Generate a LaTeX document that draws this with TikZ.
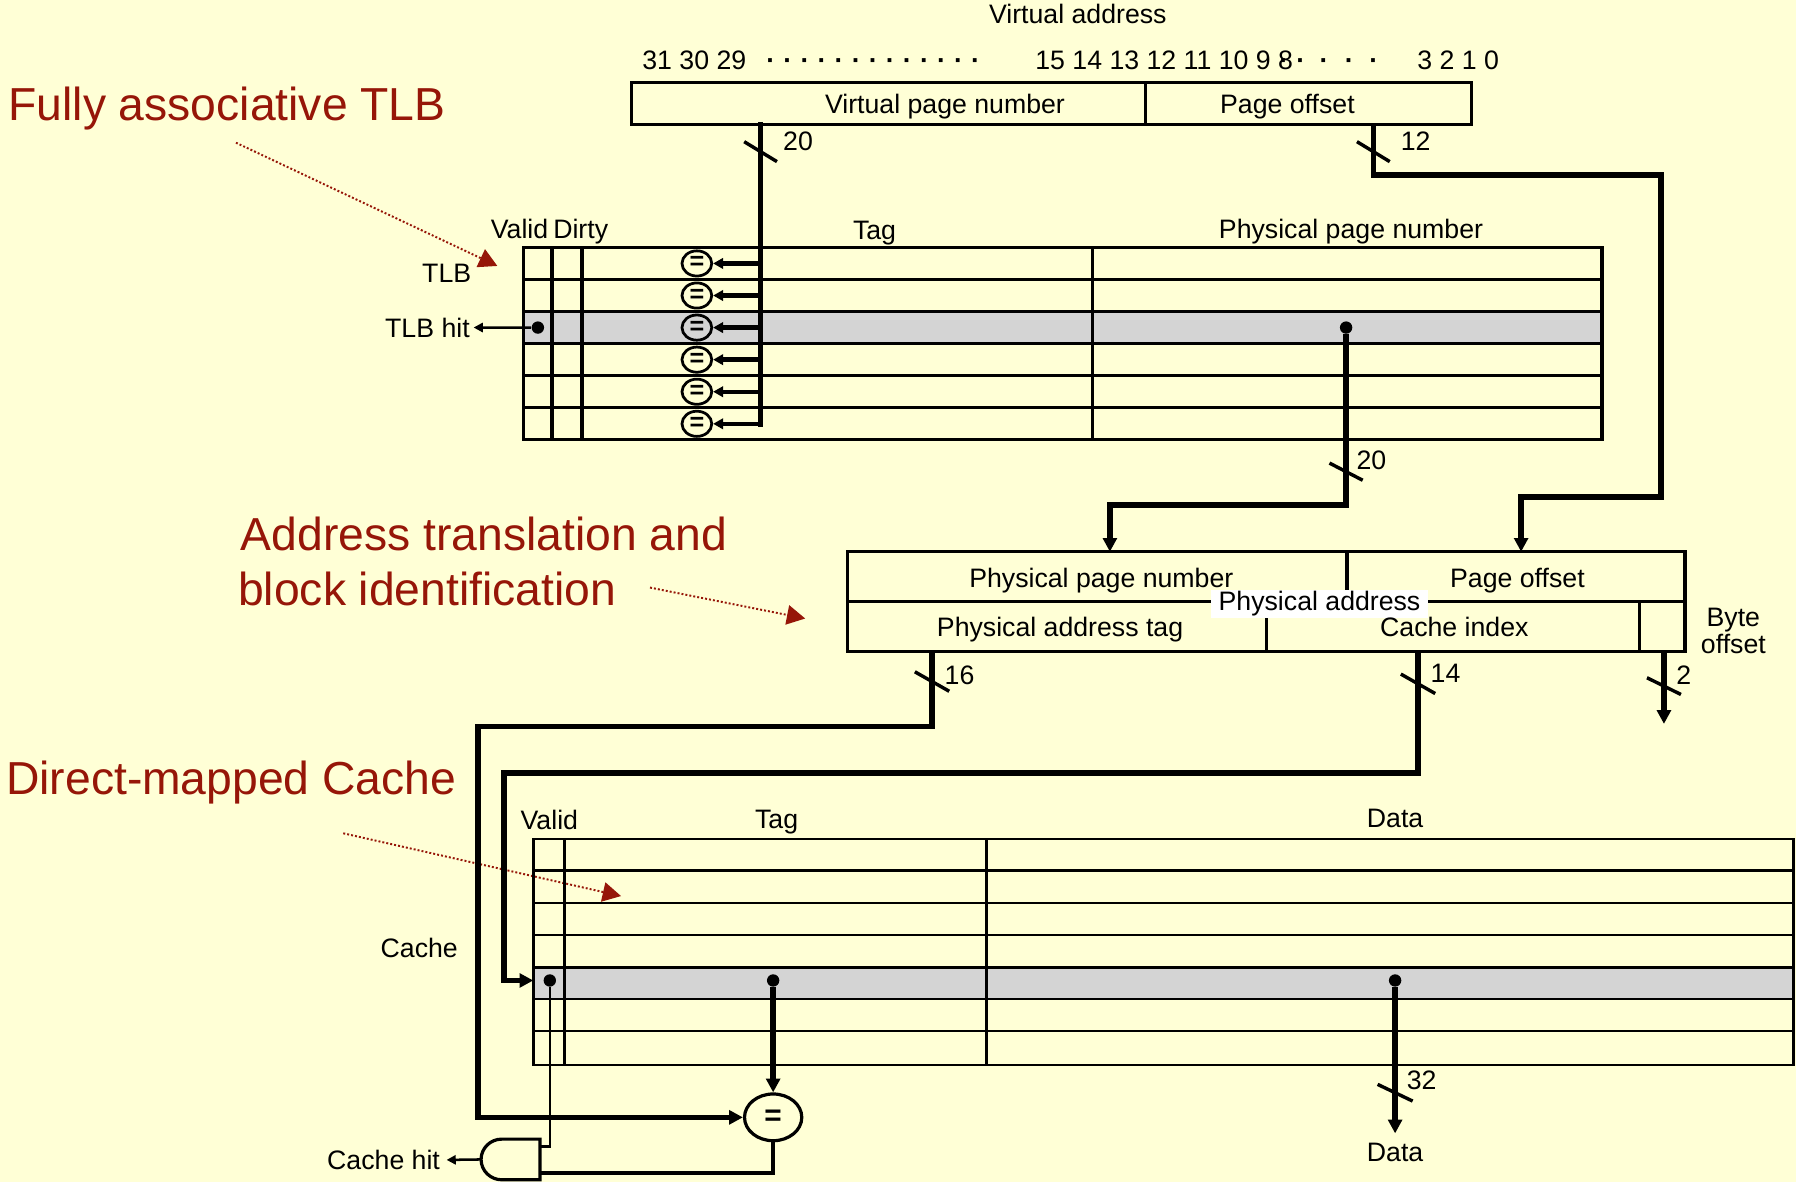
\documentclass[tikz,border=0pt]{standalone}
\usepackage{fontspec}
\setmainfont{Liberation Sans}
\usetikzlibrary{arrows.meta,shapes.geometric}
\definecolor{bg}{RGB}{255,255,214}
\definecolor{anno}{RGB}{150,22,8}
\definecolor{hl}{RGB}{212,212,212}
\begin{document}
\begin{tikzpicture}[x=0.5pt,y=-0.5pt,
  lbl/.style={font=\fontsize{11.65}{14}\selectfont, inner sep=0pt},
  big/.style={font=\fontsize{20.2}{24}\selectfont, text=anno, inner sep=0pt, anchor=base west},
  bus/.style={line width=2.4pt},
  tbl/.style={line width=1.4pt, line cap=rect},
  ctbl/.style={line width=1.2pt, line cap=rect},
  tip/.style={-{Triangle[length=6pt,width=6pt]}},
  smalltip/.style={-{Triangle[length=4pt,width=4pt]}},
  note/.style={draw=anno, line width=0.85pt, dash pattern=on 0.85pt off 0.9pt, -{Triangle[length=8pt,width=8.5pt,fill=anno]}},
  cmp/.style={ellipse, draw, line width=1.2pt, minimum width=13pt, minimum height=11pt, inner sep=0pt, font=\fontsize{11}{11}\selectfont\bfseries},
  dotn/.style={circle, fill, inner sep=0pt, minimum size=5.4pt},
  tickm/.style={line width=1.5pt},
  wire/.style={line width=1.9pt}
]
\fill[bg] (0,0) rectangle (1568,1032);
\useasboundingbox (0,0) rectangle (1568,1032);

% ---------- red annotations ----------
\node[big] (tlbnote) at (7,104.8) {Fully associative TLB};
\node[big] (atnote1) at (210,480.4) {Address translation and};
\node[big] (atnote2) at (207.5,528.4) {block identification};
\node[big] (dmnote) at (5,694) {Direct-mapped Cache};
\coordinate (n1s) at (206,124.6);  \coordinate (n1e) at (434.2,232.2);
\coordinate (n2s) at (567.5,513);  \coordinate (n2e) at (703,540);
\coordinate (n3s) at (299.7,727.5); \coordinate (n3e) at (542.2,782.3);
\draw[note] (n1s) -- (n1e);
\draw[note] (n2s) -- (n2e);
\draw[note] (n3s) -- (n3e);

% ---------- virtual address ----------
\node[lbl, anchor=base] (va) at (941,20.3) {Virtual address};
\node[lbl, anchor=base west] (b31) at (560.4,60.7) {31 30 29};
\foreach \i in {0,...,12} \node[lbl, anchor=base] (ld\i) at ({673+14.9*\i},60.7) {\textbf{·}};
\node[lbl, anchor=base west] (b15) at (903.5,60.7) {15 14 13 12 11 10 9 8\kern-6pt\textbf{·}\kern3.6pt\textbf{·}\kern6.2pt\textbf{·}\kern7.2pt\textbf{·}\kern6.8pt\textbf{·}};
\node[lbl, anchor=base west] (b3) at (1237,60.7) {3 2 1 0};

\draw[tbl] (551.3,72.2) rectangle (1284.5,108.5);
\draw[tbl] (999.9,72.2) -- (999.9,108.5);
\node[lbl, anchor=base] (vpn) at (825,99) {Virtual page number};
\node[lbl, anchor=base] (vpo) at (1124,99) {Page offset};
\coordinate (vpnout) at (664,108.5);
\coordinate (vpoout) at (1199,108.5);
\node[lbl, anchor=base] (w20a) at (696.7,131.7) {20};
\node[lbl, anchor=base] (w12) at (1236,131.7) {12};

% ---------- TLB ----------
\fill[hl] (456.7,272) rectangle (1398.6,300);
\foreach \y in {216,244,...,384} \draw[tbl] (456.7,\y) -- (1398.6,\y);
\foreach \x in {456.7,482,508.1,953.7,1398.6} \draw[tbl] (\x,216) -- (\x,384);
\node[lbl, anchor=base] (tv) at (453.6,208.5) {Valid};
\node[lbl, anchor=base] (td) at (507,208.5) {Dirty};
\node[lbl, anchor=base] (tt) at (763.5,209.5) {Tag};
\node[lbl, anchor=base] (tp) at (1179.5,208.5) {Physical page number};
\node[lbl, anchor=base] (tlbl) at (390,246.5) {TLB};

\foreach \i in {0,...,5} {
  \node[cmp] (c\i) at (608.4,{230+28*\i}) {=};
  \coordinate (tap\i) at (664,{230+28*\i});
}
\draw[bus, line cap=rect] (vpnout) -- (tap5);
\foreach \i in {0,...,5} \draw[wire, -{Triangle[length=4.4pt,width=4.6pt]}] (tap\i) -- (c\i.east);
\draw[tickm] (664,132.4) ++(-14.3,-8.7) -- ++(28.6,17.4);

\node[dotn] (hitdot) at (469.6,286) {};
\node[lbl, anchor=base east] (tlbhit) at (410.5,294.3) {TLB hit};
\draw[line width=1.1pt, smalltip] (hitdot) -- ([xshift=1.5pt]tlbhit.east);

\node[dotn] (ppndot) at (1175.2,286) {};
\coordinate (papnin) at (969,481.7);
\coordinate (papoin) at (1328,481.7);
\draw[bus, tip] (ppndot) -- (1175.2,441) -- (969,441) -- (papnin);
\draw[tickm] (1175.2,411.8) ++(-14.5,-7.5) -- ++(29,15);
\node[lbl, anchor=base] (w20b) at (1197.3,409.6) {20};

\draw[bus, tip] (vpoout) -- (1199,153) -- (1450,153) -- (1450,434) -- (1328,434) -- (papoin);
\draw[tickm] (1199,132.4) ++(-14.3,-8.7) -- ++(28.6,17.4);

% ---------- physical address ----------
\draw[tbl] (740,481.7) rectangle (1471,569);
\draw[tbl] (740,525.3) -- (1471,525.3);
\draw[tbl] (1176,481.7) -- (1176,525.3);
\draw[tbl] (1105.8,525.3) -- (1105.8,569);
\draw[tbl] (1431.6,525.3) -- (1431.6,569);
\node[lbl, anchor=base] (ppn) at (961.5,512.8) {Physical page number};
\node[lbl, anchor=base] (ppo) at (1324.8,512.8) {Page offset};
\node[lbl, anchor=base, fill=white, inner xsep=3.5pt, inner ysep=0.6pt] (pal) at (1152,533.3) {Physical address};
\node[lbl, anchor=base] (pat) at (925.5,556) {Physical address tag};
\node[lbl, anchor=base] (pci) at (1269.7,556) {Cache index};
\node[lbl, align=center, font=\fontsize{11.65}{9.9}\selectfont] (pbo) at (1513.3,550.5) {Byte\\offset};

\coordinate (tagout) at (813.7,569);
\coordinate (idxout) at (1238,569);
\coordinate (boout) at (1452.7,569);
\coordinate (boend) at (1452.7,632);
\coordinate (crowin) at (465.6,856);

% ---------- cache ----------
\fill[hl] (465.6,844.5) rectangle (1566,872.2);
\foreach \y in {732.5,760.2,788.4,816.3,844.5,872.2,900.1,929.8} \draw[ctbl] (465.6,\y) -- (1566,\y);
\foreach \x in {465.6,493,861,1566} \draw[ctbl] (\x,732.5) -- (\x,929.8);
\node[lbl, anchor=base] (cv) at (479.6,724.3) {Valid};
\node[lbl, anchor=base] (ct) at (678,723.3) {Tag};
\node[lbl, anchor=base] (cd) at (1218,722.6) {Data};
\node[lbl, anchor=base] (clbl) at (366,836.3) {Cache};

\node[ellipse, draw, line width=1.4pt, minimum width=25pt, minimum height=20.4pt, inner sep=0pt,
      font=\fontsize{13}{13}\selectfont\bfseries] (eqc) at (675,975.5) {=};

\draw[bus, tip] (tagout) -- (813.7,634.4) -- (417.5,634.4) -- (417.5,975.5) -- (eqc.west);
\draw[bus, tip] (idxout) -- (1238,675) -- (440,675) -- (440,856) -- (crowin);
\draw[bus, tip] (boout) -- (boend);
\draw[tickm] (813.7,595) ++(-15,-8.5) -- ++(30,17);
\draw[tickm] (1238,597) ++(-15,-8.5) -- ++(30,17);
\draw[tickm] (1452.7,599) ++(-14.8,-7.3) -- ++(29.6,14.6);
\node[lbl, anchor=base] (w16) at (837.7,597.5) {16};
\node[lbl, anchor=base] (w14) at (1262,595.5) {14};
\node[lbl, anchor=base] (w2) at (1470,597.3) {2};

\node[dotn] (vdot) at (480,856) {};
\node[dotn] (tdot) at (675,856) {};
\node[dotn] (ddot) at (1218,856) {};
\coordinate (dataout) at (1218,989.5);
\draw[bus, tip] (ddot) -- (dataout);
\draw[tickm] (1218,954) ++(-15.3,-7.3) -- ++(30.6,14.6);
\node[lbl, anchor=base] (w32) at (1241.2,951.3) {32};
\node[lbl, anchor=base] (dlbl) at (1218,1013.8) {Data};

\draw[bus, tip] (tdot) -- (eqc.north);

% AND gate
\draw[line width=1.4pt] (471.5,994.5) -- (438,994.5) .. controls (428.2,994.5) and (420,1002.4) .. (420,1012.25)
   .. controls (420,1022.1) and (428.2,1030) .. (438,1030) -- (471.5,1030) -- cycle;
\coordinate (gin1) at (471.5,1001);
\coordinate (gin2) at (471.5,1024);
\coordinate (gout) at (420,1012.25);
\draw[line width=1pt] (vdot) -- (480,1001) -- (gin1);
\draw[line width=2pt] (eqc.south) -- (675,1024) -- (gin2);
\node[lbl, anchor=base east] (chit) at (384.5,1021) {Cache hit};
\draw[line width=1.1pt, smalltip] (gout) -- ([xshift=2.7pt]chit.east);
\end{tikzpicture}
\end{document}
